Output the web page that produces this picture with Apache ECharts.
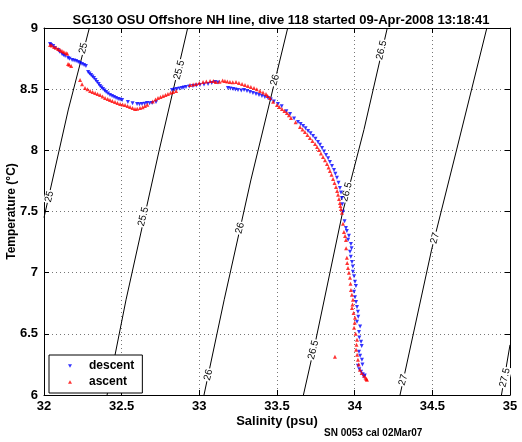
<!DOCTYPE html>
<html><head><meta charset="utf-8">
<script src="https://cdn.jsdelivr.net/npm/echarts@6/dist/echarts.min.js"></script>
<style>html,body{margin:0;padding:0;background:#fff}#c{width:522px;height:442px}</style>
</head><body><div id="c"></div>
<script>
const titleText = 'SG130 OSU Offshore NH line, dive 118 started 09-Apr-2008 13:18:41';
const xTicks = [32, 32.5, 33, 33.5, 34, 34.5, 35];
const yTicks = [6, 6.5, 7, 7.5, 8, 8.5, 9];

// descent (blue) [salinity, temperature]
const descent = [
[32.039,8.869],[32.059,8.853],[32.091,8.820],[32.116,8.788],[32.136,8.771],[32.155,8.755],
[32.181,8.739],[32.207,8.730],[32.232,8.714],[32.258,8.698],[32.284,8.641],[32.303,8.616],
[32.322,8.592],[32.342,8.559],[32.361,8.526],[32.380,8.502],[32.400,8.477],[32.425,8.453],
[32.451,8.436],[32.477,8.420],[32.503,8.412],[32.599,8.379],[32.631,8.379],[32.663,8.387],
[32.696,8.387],[32.721,8.395],[32.824,8.493],[32.856,8.502],[32.888,8.510],[32.914,8.518],
[32.959,8.526],[33.004,8.534],[33.056,8.542],[33.101,8.559],[33.184,8.510],[33.217,8.502],
[33.249,8.493],[33.288,8.493],[33.326,8.477],[33.365,8.461],[33.403,8.444],[33.442,8.428],
[33.506,8.379],[33.584,8.297],[33.635,8.232],[33.668,8.199],[33.700,8.159],[33.732,8.118],
[33.764,8.069],[33.790,8.020],[33.816,7.962],[33.841,7.905],[33.867,7.840],[33.886,7.775],
[33.905,7.693],[33.918,7.611],[33.925,7.497],[33.944,7.366],[33.963,7.301],[33.976,7.235],
[33.970,7.170],[33.983,7.088],[33.989,7.007],[34.002,6.925],[33.996,6.843],[34.009,6.761],
[34.021,6.680],[34.015,6.598],[34.028,6.516],[34.041,6.435],[34.028,6.353],[34.047,6.288],
[34.021,6.239],[34.041,6.190],[34.060,6.149],
[32.045,8.862],[32.070,8.836],[32.100,8.806],[32.125,8.779],[32.165,8.748],[32.194,8.735],
[32.220,8.722],[32.245,8.706],[32.270,8.690],[32.293,8.628],[32.312,8.604],[32.332,8.575],
[32.352,8.543],[32.370,8.514],[32.390,8.490],[32.412,8.465],[32.438,8.445],[32.464,8.428],
[32.490,8.416],[32.540,8.395],[32.570,8.385],[32.615,8.376],[32.648,8.380],[32.680,8.385],
[32.840,8.497],[32.872,8.506],[32.900,8.514],[32.935,8.522],[32.980,8.530],[33.030,8.538],
[33.080,8.550],[33.120,8.555],[33.200,8.506],[33.232,8.498],[33.270,8.490],[33.307,8.485],
[33.345,8.469],[33.384,8.452],[33.422,8.436],[33.460,8.415],[33.480,8.400],[33.530,8.360],
[33.560,8.320],[33.610,8.260],[33.652,8.215],[33.684,8.180],[33.716,8.140],[33.748,8.095],
[33.777,8.045],[33.803,7.990],[33.829,7.935],[33.854,7.872],[33.876,7.808],[33.896,7.735],
[33.912,7.655],[33.920,7.560],[33.935,7.420],[33.950,7.340],[33.958,7.270],[33.980,7.200],
[33.975,7.130],[33.988,7.050],[33.996,6.970],[34.008,6.890],[34.002,6.800],[34.015,6.720],
[34.023,6.640],[34.035,6.560],[34.030,6.470],[34.045,6.400],[34.035,6.320],[34.050,6.250],
[34.030,6.210],[34.052,6.170],[34.065,6.160]
];
// ascent (red) [salinity, temperature]
const ascent = [
[32.039,8.861],[32.065,8.845],[32.091,8.828],[32.116,8.812],[32.142,8.796],[32.155,8.706],
[32.175,8.690],[32.232,8.575],[32.264,8.510],[32.297,8.485],[32.329,8.469],[32.361,8.453],
[32.393,8.428],[32.425,8.412],[32.457,8.395],[32.490,8.379],[32.522,8.371],[32.554,8.355],
[32.586,8.338],[32.618,8.346],[32.650,8.363],[32.734,8.428],[32.766,8.444],[32.798,8.461],
[32.831,8.477],[32.940,8.534],[32.979,8.542],[33.024,8.559],[33.069,8.567],[33.107,8.559],
[33.165,8.567],[33.197,8.559],[33.236,8.559],[33.275,8.542],[33.313,8.526],[33.352,8.510],
[33.390,8.485],[33.429,8.461],[33.455,8.428],[33.500,8.371],[33.532,8.338],[33.564,8.306],
[33.590,8.265],[33.648,8.191],[33.680,8.150],[33.712,8.101],[33.745,8.052],[33.770,8.003],
[33.796,7.946],[33.822,7.889],[33.841,7.832],[33.861,7.766],[33.880,7.701],[33.893,7.636],
[33.905,7.570],[33.912,7.521],[33.931,7.333],[33.944,7.268],[33.950,7.121],[33.957,7.039],
[33.970,6.958],[33.976,6.859],[33.989,6.778],[33.983,6.712],[34.002,6.631],[33.996,6.549],
[34.015,6.451],[34.009,6.369],[34.021,6.288],[34.034,6.206],[34.060,6.157],[34.079,6.124],
[33.873,6.312],
[32.050,8.856],[32.078,8.838],[32.104,8.820],[32.128,8.804],[32.150,8.790],[32.163,8.700],
[32.245,8.540],[32.280,8.500],[32.313,8.477],[32.345,8.461],[32.377,8.440],[32.410,8.420],
[32.440,8.403],[32.473,8.387],[32.506,8.375],[32.538,8.363],[32.570,8.347],[32.600,8.340],
[32.635,8.352],[32.665,8.372],[32.700,8.400],[32.718,8.415],[32.750,8.436],[32.782,8.452],
[32.815,8.470],[32.850,8.485],[32.960,8.538],[33.000,8.550],[33.045,8.563],[33.090,8.566],
[33.130,8.561],[33.150,8.570],[33.180,8.563],[33.215,8.557],[33.255,8.550],[33.294,8.534],
[33.332,8.518],[33.370,8.500],[33.410,8.473],[33.440,8.445],[33.475,8.397],[33.515,8.355],
[33.548,8.322],[33.577,8.286],[33.620,8.230],[33.664,8.170],[33.696,8.125],[33.728,8.077],
[33.758,8.028],[33.783,7.975],[33.809,7.918],[33.832,7.860],[33.851,7.800],[33.870,7.733],
[33.887,7.668],[33.899,7.603],[33.908,7.545],[33.918,7.490],[33.925,7.400],[33.938,7.300],
[33.945,7.200],[33.952,7.080],[33.963,7.000],[33.973,6.910],[33.982,6.820],[33.986,6.740],
[33.993,6.670],[34.000,6.590],[34.006,6.500],[34.012,6.410],[34.016,6.330],[34.026,6.250],
[34.045,6.180],[34.070,6.140],[34.075,6.130]
];

// isopycnal lines (sigma-theta) [salinity, temperature]
const iso250 = [[32.292,9],[32.156,8.33],[32.0,7.45]];
const iso255 = [[32.925,9],[32.742,8.003],[32.528,6.778],[32.406,6.0]];
const iso260 = [[33.569,9],[33.332,7.758],[33.160,6.778],[33.030,6.0]];
const iso265 = [[34.21,9],[34.06,8.17],[33.92,7.48],[33.75,6.45],[33.67,6.0]];
const iso270 = [[34.851,9],[34.656,8.003],[34.495,7.186],[34.292,6.0]];
const iso275 = [[35.0,6.41],[34.945,6.0]];
const isoLines = [iso250, iso255, iso260, iso265, iso270, iso275];

// contour labels [salinity, temperature, text]
const isoLabels = [
[32.254,8.834,'25'],[32.035,7.622,'25'],
[32.871,8.657,'25.5'],[32.640,7.458,'25.5'],
[33.487,8.575,'26'],[33.262,7.364,'26'],[33.058,6.165,'26'],
[34.174,8.820,'26.5'],[33.949,7.660,'26.5'],[33.734,6.369,'26.5'],
[34.517,7.282,'27'],[34.313,6.124,'27'],
[34.967,6.141,'27.5']
];

const F = 'Liberation Sans, Arial, Helvetica, sans-serif';
const chart = echarts.init(document.getElementById('c'), null, {renderer:'canvas'});
const series = [];
isoLines.forEach(l => series.push({type:'line', data:l, symbol:'none', silent:true, z:2,
  lineStyle:{color:'#000', width:1}, animation:false}));
series.push({name:'descent', type:'scatter', data:descent, symbol:'triangle', symbolRotate:180,
  symbolSize:4, itemStyle:{color:'#0000ff'}, z:5, animation:false});
series.push({name:'ascent', type:'scatter', data:ascent, symbol:'triangle',
  symbolSize:4, itemStyle:{color:'#ff0000'}, z:6, animation:false});

const axisCommon = {
  axisLine:{show:true, lineStyle:{color:'#000', width:1}},
  axisTick:{show:true, inside:true, length:5, lineStyle:{color:'#000'}},
};
chart.setOption({
  backgroundColor:'#fff',
  animation:false,
  title:{text:titleText, left:276, top:9, textAlign:'center',
    textStyle:{fontFamily:F, fontSize:13, fontWeight:'bold', color:'#000'}},
  grid:{left:44, right:12, top:28, bottom:47, show:false, outerBoundsMode:'none', containLabel:false},
  legend:{data:[{name:'descent', icon:'path://M0,0L10,0L5,9Z'},{name:'ascent', icon:'path://M5,0L10,9L0,9Z'}],
    orient:'vertical', left:49, top:355,
    itemWidth:4, itemHeight:4, itemGap:4,
    backgroundColor:'#fff', borderColor:'#000', borderWidth:1, padding:[5,8,5,19],
    textStyle:{fontFamily:F, fontSize:12, fontWeight:'bold', color:'#000', padding:[0,0,0,12]}},
  xAxis:[{type:'value', min:32, max:35, interval:0.5, position:'bottom',
    name:'Salinity (psu)', nameLocation:'middle', nameGap:20, nameMoveOverlap:false,
    nameTextStyle:{fontFamily:F, fontSize:13, fontWeight:'bold', color:'#000'},
    ...axisCommon,
    axisLabel:{fontFamily:F, fontSize:13, fontWeight:'bold', color:'#000', margin:5,
      formatter:v=>String(+v.toFixed(1))},
    splitLine:{show:true, lineStyle:{color:'#777', type:[1,3], width:1}}},
    {type:'value', min:32, max:35, interval:0.5, position:'top', ...axisCommon,
    axisLabel:{show:false}, splitLine:{show:false}}],
  yAxis:[{type:'value', min:6, max:9, interval:0.5, position:'left',
    name:'Temperature (°C)', nameLocation:'middle', nameGap:26, nameMoveOverlap:false,
    nameTextStyle:{fontFamily:F, fontSize:12, fontWeight:'bold', color:'#000'},
    ...axisCommon,
    axisLabel:{fontFamily:F, fontSize:13, fontWeight:'bold', color:'#000', margin:6,
      formatter:v=>String(+v.toFixed(1))},
    splitLine:{show:true, lineStyle:{color:'#777', type:[1,3], width:1}}},
    {type:'value', min:6, max:9, interval:0.5, position:'right', ...axisCommon,
    axisLabel:{show:false}, splitLine:{show:false}}],
  series: series
});

// contour labels placed through the chart's own scale, rotated along the lines
const labelEls = isoLabels.map(d => {
  const p = chart.convertToPixel({gridIndex:0}, [d[0], d[1]]);
  return {type:'text', x:p[0], y:p[1], rotation:76*Math.PI/180, z:4, silent:true,
    style:{text:d[2], font:'10px '+F, fill:'#000', align:'center', verticalAlign:'middle',
      backgroundColor:'#fff', padding:[0,1]}};
});
labelEls.push({type:'text', left:324, top:428, style:{text:'SN 0053 cal 02Mar07',
    font:'bold 10px '+F, fill:'#000'}});
chart.setOption({graphic:labelEls});
</script></body></html>
